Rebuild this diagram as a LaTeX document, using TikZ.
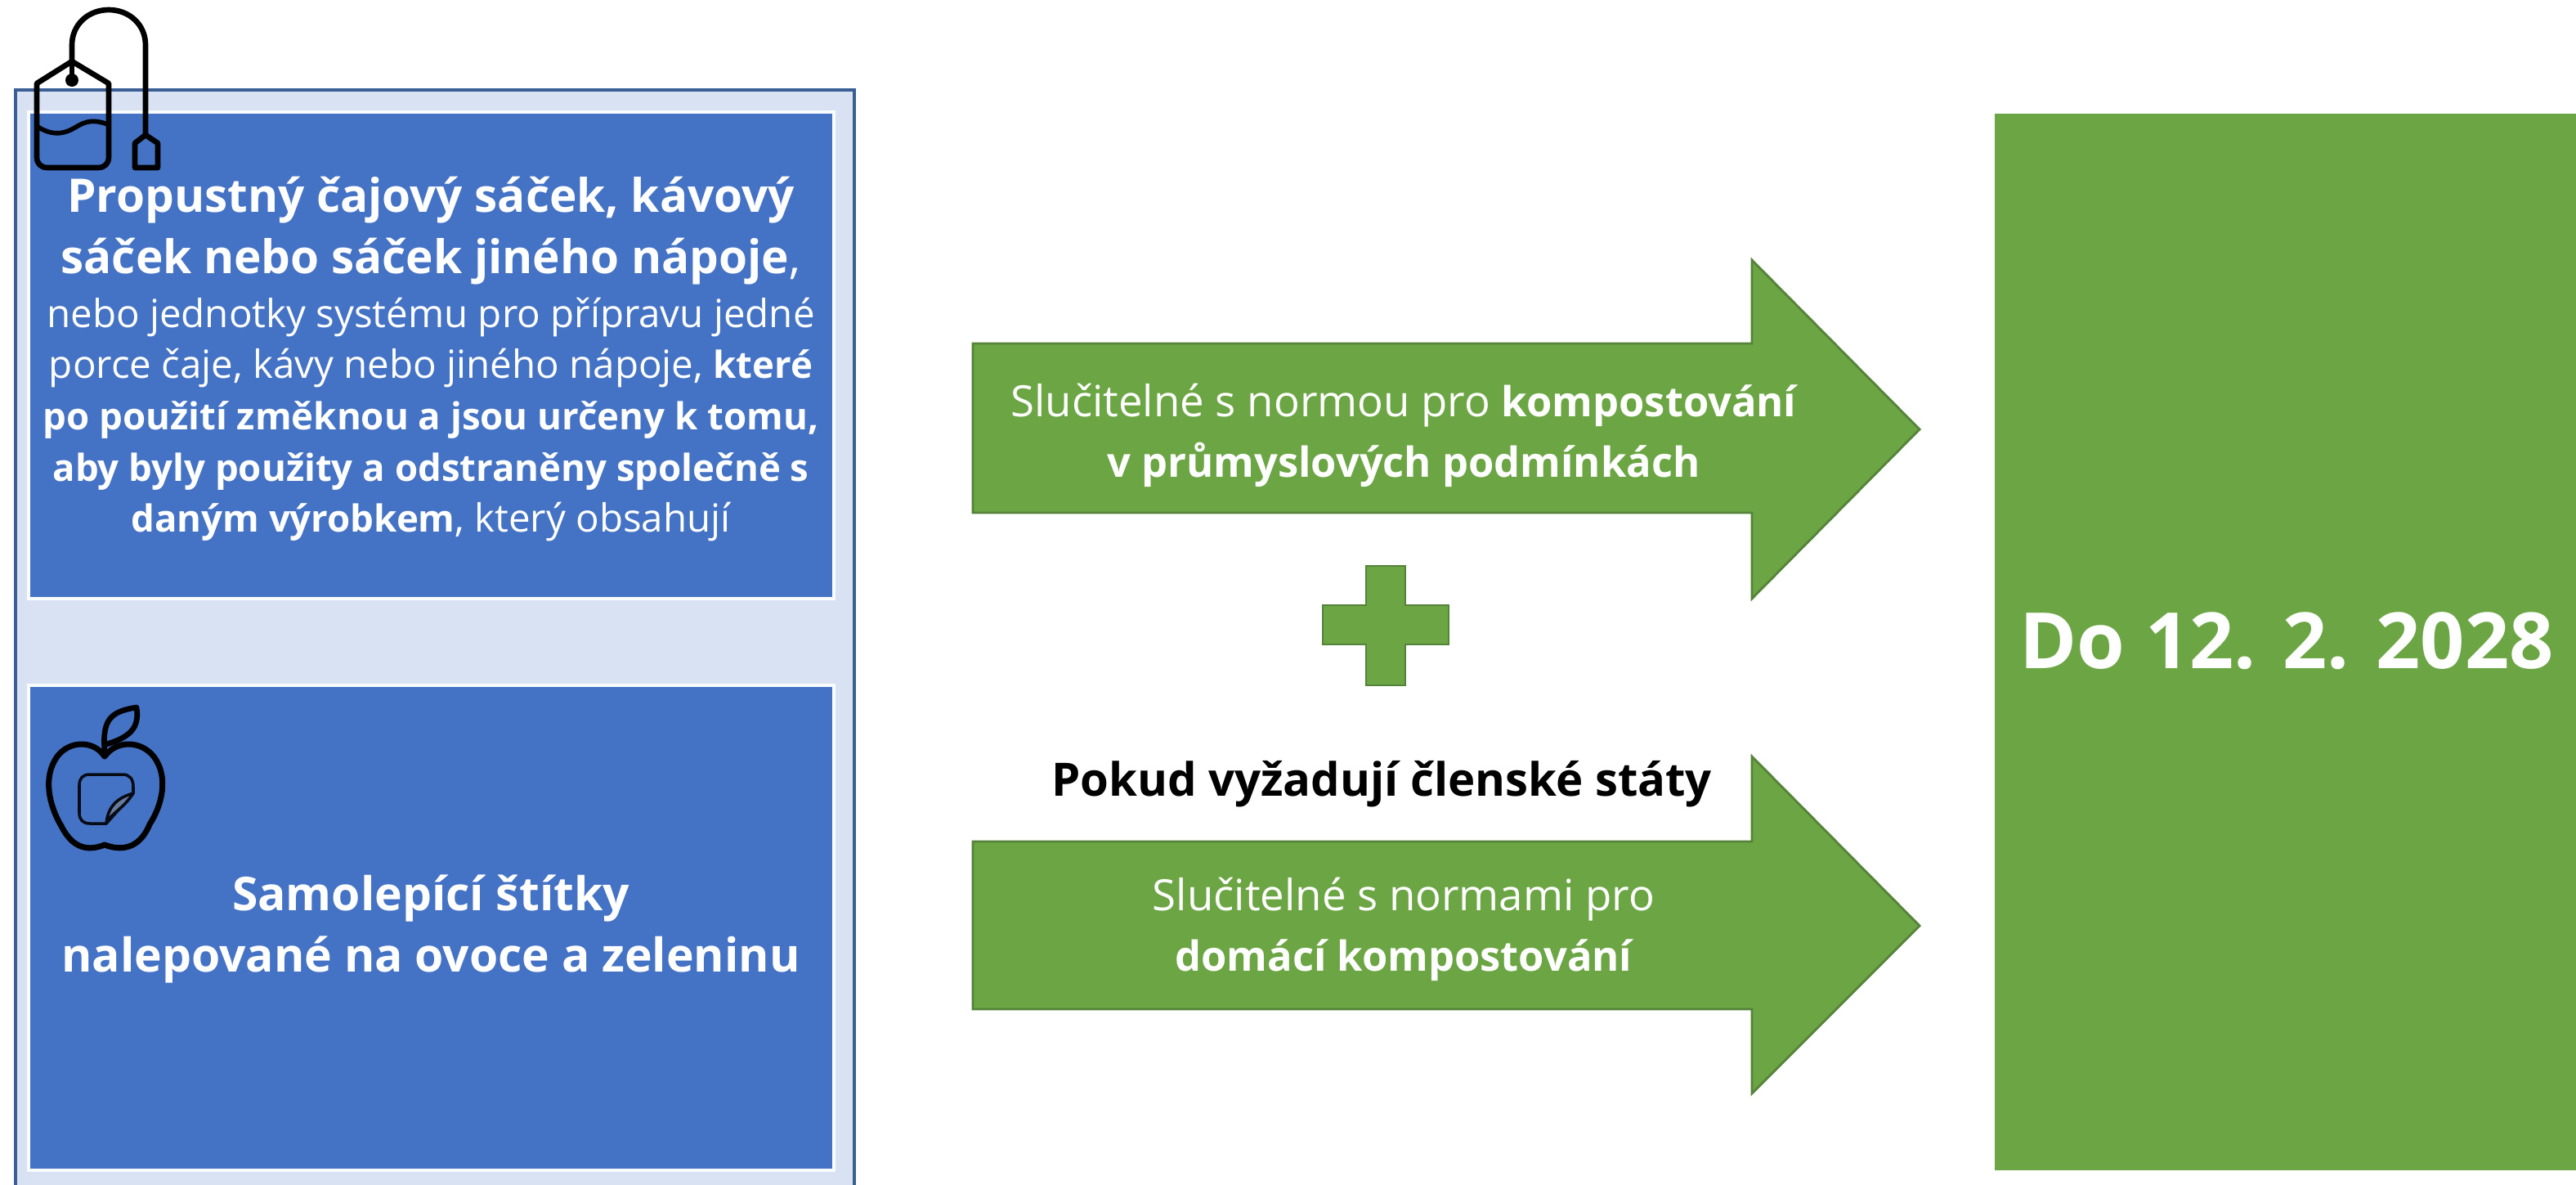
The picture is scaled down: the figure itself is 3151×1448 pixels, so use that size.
\documentclass[tikz,border=0pt]{standalone}
\usepackage{fontspec}
\setmainfont{Open Sans}
\definecolor{bluebox}{HTML}{4472C4}
\definecolor{paleblue}{HTML}{D9E2F3}
\definecolor{frameblue}{HTML}{3A5F95}
\definecolor{greenbox}{HTML}{6CA544}
\definecolor{greenline}{HTML}{55833A}
\newcommand\bodybold[1]{{\fontsize{12.95}{17.8}\selectfont\bfseries #1}}
\newcommand\arrowbold[1]{{\fontsize{14.4}{21}\selectfont\bfseries #1}}
\tikzset{
  panel/.style={fill=bluebox,draw=white!85!paleblue,line width=1.2pt},
  greenshape/.style={fill=greenbox,draw=greenline,line width=0.8pt,line join=miter},
  icon/.style={draw=black,line width=1.9pt,line cap=round,line join=round},
  iconthin/.style={draw=black!90!bluebox,line width=1pt,line cap=round,line join=round},
  whitetext/.style={text=white,align=center,inner sep=0pt},
  title/.style={whitetext,font=\fontsize{16.1}{21.2}\selectfont},
  body/.style={whitetext,font=\fontsize{13.5}{17.8}\selectfont},
  arrowtext/.style={whitetext,font=\fontsize{15}{21}\selectfont},
  labeltext/.style={whitetext,font=\fontsize{16.2}{21.3}\selectfont\bfseries},
}
\begin{document}
\begin{tikzpicture}[x=0.01cm,y=-0.01cm]
\useasboundingbox (0,0) rectangle (3151,1448);
\fill[white] (0,0) rectangle (3151,1448);
\begin{scope}
\clip (0,0) rectangle (3151,1448);
\draw[fill=paleblue,draw=frameblue,line width=1pt] (19,110) rectangle (1045,1470);
\end{scope}
% panels
\path[panel] (35,137) rectangle (1020,732);
\path[panel] (35,838) rectangle (1020,1431);
\node[title] (t1) at (527,282) {\textbf{Propustný čajový sáček, kávový}\\\textbf{sáček nebo sáček jiného nápoje},};
\node[body] (t2) at (527,513) {nebo jednotky systému pro přípravu jedné\\porce čaje, kávy nebo jiného nápoje, \bodybold{které}\\\bodybold{po použití změknou a jsou určeny k tomu,}\\\bodybold{aby byly použity a odstraněny společně s}\\\bodybold{daným výrobkem}, který obsahují};
\node[labeltext] (t3) at (527,1136) {Samolepící štítky\\nalepované na ovoce a zeleninu};
% tea bag icon
\draw[icon] (88,75) -- (133,102) -- (133,192) .. controls (133,200) and (128,205) .. (120,205) -- (58,205) .. controls (50,205) and (45,200) .. (45,192) -- (45,102) -- cycle;
\draw[icon] (88,75) -- (88,98);
\fill[black] (88,98) circle (8);
\draw[icon] (88,75) -- (88,55) .. controls (88,30) and (108,12) .. (133,12) .. controls (158,12) and (178,30) .. (178,55) -- (178,165);
\draw[icon] (178,165) -- (193,175) -- (193,205) -- (165,205) -- (165,175) -- cycle;
\draw[icon,line width=1.6pt] (46,155) .. controls (70,170) and (85,160) .. (97,153) .. controls (110,146) and (120,148) .. (132,152);
% apple icon
\draw[icon,line width=2pt] (128,925) .. controls (115,905) and (85,905) .. (70,925) .. controls (52,950) and (60,985) .. (75,1010) .. controls (90,1040) and (110,1040) .. (128,1033) .. controls (146,1040) and (170,1040) .. (183,1008) .. controls (198,985) and (207,950) .. (188,925) .. controls (172,905) and (142,905) .. (128,925) -- cycle;
\draw[icon] (128,918) .. controls (125,880) and (135,870) .. (167,865) .. controls (170,885) and (165,900) .. (130,910);
\draw[iconthin] (163,970) -- (163,962) .. controls (163,952) and (158,947) .. (150,947) -- (110,947) .. controls (101,947) and (97,952) .. (97,960) -- (97,994) .. controls (97,1003) and (102,1007) .. (110,1007) -- (130,1007) -- cycle;
\draw[iconthin,fill=gray!60!bluebox] (163,970) .. controls (145,975) and (132,985) .. (130,1007) .. controls (135,995) and (150,990) .. (163,970) -- cycle;
% arrows
\path[greenshape] (1190,420) -- (2143,420) -- (2143,318) -- (2348,525) -- (2143,732) -- (2143,627) -- (1190,627) -- cycle;
\path[greenshape] (1190,1029) -- (2143,1029) -- (2143,925) -- (2348,1132) -- (2143,1337) -- (2143,1234) -- (1190,1234) -- cycle;
\path[greenshape] (1671,692) -- (1719,692) -- (1719,740) -- (1772,740) -- (1772,788) -- (1719,788) -- (1719,838) -- (1671,838) -- (1671,788) -- (1618,788) -- (1618,740) -- (1671,740) -- cycle;
\node[arrowtext] (a1) at (1717,532) {Slučitelné s normou pro \arrowbold{kompostování}\\\arrowbold{v průmyslových podmínkách}};
\node[arrowtext] (a2) at (1717,1136) {Slučitelné s normami pro\\\arrowbold{domácí kompostování}};
\node[text=black,inner sep=0pt,font=\fontsize{16}{18}\selectfont\bfseries] (a3) at (1690,959) {Pokud vyžadují členské státy};
% deadline
\path[fill=greenbox] (2440,139) rectangle (3151,1431);
\node[text=white,inner sep=0pt,font=\fontsize{27}{32}\selectfont\bfseries] (d) at (2797,784) {Do 12. 2. 2028};
\end{tikzpicture}
\end{document}
